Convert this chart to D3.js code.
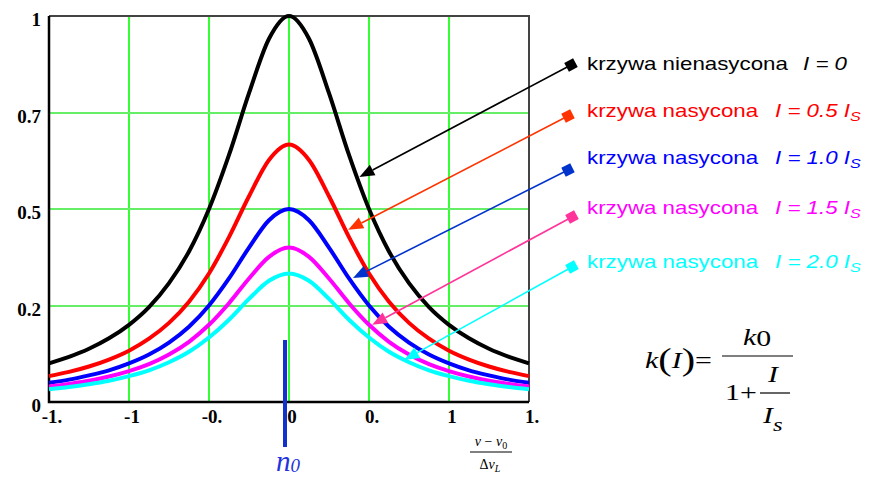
<!DOCTYPE html>
<html>
<head>
<meta charset="utf-8">
<script src="https://cdn.jsdelivr.net/npm/d3@7"></script>
<style>
  html, body { margin: 0; padding: 0; background: #fff; }
  svg { display: block; }
</style>
</head>
<body>
<svg id="chart" width="873" height="478"></svg>
<script>
// detuning (v - v0)/dvL, read every 0.125
const xValues = [-1.5, -1.375, -1.25, -1.125, -1, -0.875, -0.75, -0.625, -0.5, -0.375, -0.25, -0.125, 0,
  0.125, 0.25, 0.375, 0.5, 0.625, 0.75, 0.875, 1, 1.125, 1.25, 1.375, 1.5];

const curveI0 = [0.100, 0.117, 0.138, 0.165, 0.200, 0.246, 0.308, 0.390, 0.500, 0.640, 0.800, 0.941, 1.000,
  0.941, 0.800, 0.640, 0.500, 0.390, 0.308, 0.246, 0.200, 0.165, 0.138, 0.117, 0.100];
const curveI05 = [0.067, 0.078, 0.092, 0.110, 0.133, 0.164, 0.205, 0.260, 0.333, 0.427, 0.533, 0.627, 0.667,
  0.627, 0.533, 0.427, 0.333, 0.260, 0.205, 0.164, 0.133, 0.110, 0.092, 0.078, 0.067];
const curveI10 = [0.050, 0.058, 0.069, 0.082, 0.100, 0.123, 0.154, 0.195, 0.250, 0.320, 0.400, 0.471, 0.500,
  0.471, 0.400, 0.320, 0.250, 0.195, 0.154, 0.123, 0.100, 0.082, 0.069, 0.058, 0.050];
const curveI15 = [0.040, 0.047, 0.055, 0.066, 0.080, 0.098, 0.123, 0.156, 0.200, 0.256, 0.320, 0.376, 0.400,
  0.376, 0.320, 0.256, 0.200, 0.156, 0.123, 0.098, 0.080, 0.066, 0.055, 0.047, 0.040];
const curveI20 = [0.033, 0.039, 0.046, 0.055, 0.067, 0.082, 0.103, 0.130, 0.167, 0.213, 0.267, 0.314, 0.333,
  0.314, 0.267, 0.213, 0.167, 0.130, 0.103, 0.082, 0.067, 0.055, 0.046, 0.039, 0.033];

const xTickValues = [-1.5, -1, -0.5, 0, 0.5, 1, 1.5];
const xTickLabels = ["-1.", "-1", "-0.", "0", "0.", "1", "1."];
const yTickValues = [0, 0.25, 0.5, 0.75, 1];
const yTickLabels = ["0", "0.2", "0.5", "0.7", "1"];

const legendNames = ["krzywa nienasycona", "krzywa nasycona", "krzywa nasycona", "krzywa nasycona", "krzywa nasycona"];
const legendIntensity = ["0", "0.5", "1.0", "1.5", "2.0"];
// where each arrow points on its curve (data coords)
const arrowTipX = [0.44, 0.37, 0.40, 0.52, 0.72];
const arrowTipY = [0.583, 0.446, 0.321, 0.200, 0.109];

const curveColors = ["#000000", "#ff0000", "#0000ff", "#ff00ff", "#00ffff"];
const textColors = ["#000000", "#ff0000", "#0000ff", "#ff00ff", "#00ffff"];
const arrowColors = ["#000000", "#ff3300", "#0033cc", "#ff3399", "#00ffff"];

const series = [curveI0, curveI05, curveI10, curveI15, curveI20];

const svg = d3.select("#chart");
const plot = { left: 49, right: 529, top: 16, bottom: 402 };

const x = d3.scaleLinear().domain([-1.5, 1.5]).range([plot.left, plot.right]);
const y = d3.scaleLinear().domain([0, 1]).range([plot.bottom, plot.top]);

// grid
svg.append("g").selectAll("line")
  .data(xTickValues.slice(1, -1))
  .join("line")
  .attr("x1", (d) => x(d)).attr("x2", (d) => x(d))
  .attr("y1", plot.top).attr("y2", plot.bottom)
  .attr("stroke", "#00ff00").attr("stroke-width", 1.6);

svg.append("g").selectAll("line")
  .data(yTickValues.slice(1, -1))
  .join("line")
  .attr("x1", plot.left).attr("x2", plot.right)
  .attr("y1", (d) => Math.round(y(d))).attr("y2", (d) => Math.round(y(d)))
  .attr("stroke", "#66ee66").attr("stroke-width", 2);

// frame
svg.append("path")
  .attr("d", `M${plot.left},${plot.top}H${plot.right}V${plot.bottom}`)
  .attr("fill", "none").attr("stroke", "#444").attr("stroke-width", 2);
svg.append("path")
  .attr("d", `M${plot.left},${plot.top}V${plot.bottom}H${plot.right}`)
  .attr("fill", "none").attr("stroke", "#000").attr("stroke-width", 2.5);

// tick labels
const tickFont = "'Liberation Serif', 'Times New Roman', serif";
svg.append("g").selectAll("text")
  .data(yTickValues)
  .join("text")
  .attr("x", 41)
  .attr("y", (d) => y(d) + 10)
  .attr("text-anchor", "end")
  .attr("font-family", tickFont).attr("font-weight", "bold").attr("font-size", 19)
  .text((d, i) => yTickLabels[i]);

svg.append("g").selectAll("text")
  .data(xTickValues)
  .join("text")
  .attr("x", (d) => x(d) + 3)
  .attr("y", 423)
  .attr("text-anchor", "middle")
  .attr("font-family", tickFont).attr("font-weight", "bold").attr("font-size", 19)
  .text((d, i) => xTickLabels[i]);

// curves
const line = d3.line()
  .x((d, i) => x(xValues[i]))
  .y((d) => y(d))
  .curve(d3.curveMonotoneX);

svg.append("g").selectAll("path")
  .data(series)
  .join("path")
  .attr("d", line)
  .attr("fill", "none")
  .attr("stroke", (d, i) => curveColors[i])
  .attr("stroke-width", 4)
  .attr("stroke-linejoin", "round");

// v0 marker
svg.append("line")
  .attr("x1", x(0) - 4).attr("x2", x(0) - 4)
  .attr("y1", 340).attr("y2", 447)
  .attr("stroke", "#1133cc").attr("stroke-width", 4);

const n0 = svg.append("text")
  .attr("x", 276).attr("y", 471)
  .attr("font-family", tickFont).attr("font-style", "italic")
  .attr("fill", "#2233dd").attr("font-size", 29);
n0.append("tspan").text("n");
n0.append("tspan").attr("font-size", 19).attr("dy", 1).text("0");

// x axis caption
const cap = svg.append("g").attr("font-family", tickFont).attr("font-size", 14);
const num = cap.append("text").attr("x", 491).attr("y", 446).attr("text-anchor", "middle");
num.append("tspan").attr("font-style", "italic").text("ν");
num.append("tspan").text(" − ");
num.append("tspan").attr("font-style", "italic").text("ν");
num.append("tspan").attr("font-size", 10).attr("dy", 3).text("0");
cap.append("line").attr("x1", 470).attr("x2", 512).attr("y1", 452).attr("y2", 452)
  .attr("stroke", "#000").attr("stroke-width", 1);
const den = cap.append("text").attr("x", 490).attr("y", 469).attr("text-anchor", "middle");
den.append("tspan").text("Δ");
den.append("tspan").attr("font-style", "italic").text("ν");
den.append("tspan").attr("font-size", 10).attr("font-style", "italic").attr("dy", 3).text("L");

// legend with arrows
const legendX = 587;
const legendBaseline = [70, 117, 164, 214, 268];
const squareX = [571, 568, 568, 572, 572];
const squareY = [65, 116, 170, 217, 267];
const italicX = [803, 775, 775, 775, 775];
const legendFont = "'Liberation Sans', Arial, sans-serif";

legendNames.forEach((name, i) => {
  const tipX = x(arrowTipX[i]);
  const tipY = y(arrowTipY[i]);
  const angle = Math.atan2(tipY - squareY[i], tipX - squareX[i]);
  const headLen = 15;
  const headW = 6;
  const baseX = tipX - headLen * Math.cos(angle);
  const baseY = tipY - headLen * Math.sin(angle);

  svg.append("line")
    .attr("x1", squareX[i]).attr("y1", squareY[i])
    .attr("x2", baseX).attr("y2", baseY)
    .attr("stroke", arrowColors[i]).attr("stroke-width", 1.6);

  svg.append("path")
    .attr("d", `M${tipX},${tipY}L${baseX - headW * Math.sin(angle)},${baseY + headW * Math.cos(angle)}L${baseX + headW * Math.sin(angle)},${baseY - headW * Math.cos(angle)}Z`)
    .attr("fill", arrowColors[i]);

  svg.append("rect")
    .attr("x", -5).attr("y", -5).attr("width", 10).attr("height", 10)
    .attr("transform", `translate(${squareX[i]},${squareY[i]}) rotate(${angle * 180 / Math.PI})`)
    .attr("fill", arrowColors[i]);

  svg.append("text")
    .attr("transform", `translate(${legendX},${legendBaseline[i]}) scale(1.24,1)`)
    .attr("font-family", legendFont).attr("font-size", 18)
    .attr("fill", textColors[i])
    .text(name);

  const it = svg.append("text")
    .attr("transform", `translate(${italicX[i]},${legendBaseline[i]}) scale(1.24,1)`)
    .attr("font-family", legendFont).attr("font-size", 18).attr("font-style", "italic")
    .attr("fill", textColors[i]);
  if (i === 0) {
    it.text("I = 0");
  } else {
    it.append("tspan").text(`I = ${legendIntensity[i]} I`);
    it.append("tspan").attr("font-size", 13).attr("dy", 4).text("S");
  }
});

// formula k(I) = k0 / (1 + I/Is), slide text is stretched horizontally
const fx = 645;
const sx = 1.3;
const lx = (v) => (v - fx) / sx;
const f = svg.append("g")
  .attr("transform", `translate(${fx},0) scale(${sx},1)`)
  .attr("font-family", tickFont).attr("font-size", 23);
const lhs = f.append("text").attr("x", 0).attr("y", 368);
lhs.append("tspan").attr("font-style", "italic").text("k");
lhs.append("tspan").attr("font-size", 31).attr("dy", 2).text("(");
lhs.append("tspan").attr("font-style", "italic").attr("dy", -2).text("I");
lhs.append("tspan").attr("font-size", 31).attr("dy", 2).text(")");
lhs.append("tspan").attr("dy", -2).text("=");
f.append("line").attr("x1", lx(722)).attr("x2", lx(793)).attr("y1", 356).attr("y2", 356)
  .attr("stroke", "#000").attr("stroke-width", 1.2);
const k0 = f.append("text").attr("x", lx(743)).attr("y", 345);
k0.append("tspan").attr("font-style", "italic").text("k");
k0.append("tspan").attr("dy", 1).text("0");
f.append("text").attr("x", lx(725)).attr("y", 400).text("1+");
f.append("text").attr("x", lx(768)).attr("y", 382).attr("font-style", "italic").text("I");
f.append("line").attr("x1", lx(760)).attr("x2", lx(790)).attr("y1", 393).attr("y2", 393)
  .attr("stroke", "#000").attr("stroke-width", 1.2);
const is = f.append("text").attr("x", lx(763)).attr("y", 423).attr("font-style", "italic");
is.append("tspan").text("I");
is.append("tspan").attr("font-size", 19).attr("dy", 8).text("s");
</script>
</body>
</html>
